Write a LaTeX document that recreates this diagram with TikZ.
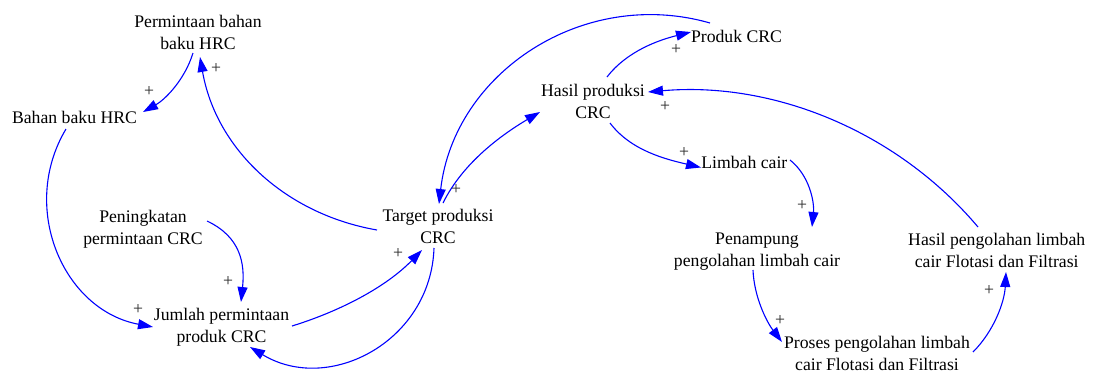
\documentclass[tikz,border=0pt]{standalone}
\usepackage{fontspec}
\setmainfont{Liberation Serif}
\usetikzlibrary{arrows.meta}
\begin{document}
\begin{tikzpicture}[x=1pt,y=-1pt,
  var/.style={font=\fontsize{17.7}{22}\selectfont, align=center, inner sep=0pt, text=black},
  pol/.style={font=\fontsize{17.7}{22}\selectfont, inner sep=0pt, text=black!85},
  link/.style={draw=blue, line width=1.1pt, -{Triangle[length=15pt,width=10pt]}}]
\useasboundingbox (0,0) rectangle (1093,376);
% variables
\node[var] (perm)   at (198,33.6)   {\strut Permintaan bahan\\\strut baku HRC};
\node[var] (bahan)  at (74.5,119)   {\strut Bahan baku HRC};
\node[var] (pen)    at (143,228.6)  {\strut Peningkatan\\\strut permintaan CRC};
\node[var] (jum)    at (221.5,326.6){\strut Jumlah permintaan\\\strut produk CRC};
\node[var] (target) at (438,228.3)  {\strut Target produksi\\\strut CRC};
\node[var] (hasil)  at (593,103.3)  {\strut Hasil produksi\\\strut CRC};
\node[var] (produk) at (736.5,38.3) {\strut Produk CRC};
\node[var] (limbah) at (744.3,164)  {\strut Limbah cair};
\node[var] (tamp)   at (757,250.6)  {\strut Penampung\\\strut pengolahan limbah cair};
\node[var] (hpeng)  at (996.7,251.6){\strut Hasil pengolahan limbah\\\strut cair Flotasi dan Filtrasi};
\node[var] (proses) at (877,355)    {\strut Proses pengolahan limbah\\\strut cair Flotasi dan Filtrasi};
% links
\draw[link] ([shift={(-5,19.4)}]perm.center) .. controls +(-8,26) and +(23,-13) .. ([shift={(68.5,-7)}]bahan.center);
\draw[link] ([shift={(-61,1.7)}]target.center) .. controls +(-92,-16) and +(16,92) .. ([shift={(2,23.4)}]perm.center);
\draw[link] ([shift={(-8.5,10)}]bahan.center) .. controls +(-47,78.5) and +(-90,-17) .. ([shift={(-68.5,0.4)}]jum.center);
\draw[link] ([shift={(64,-7.6)}]pen.center) .. controls +(34,16) and +(4,-38) .. ([shift={(19.5,-24.6)}]jum.center);
\draw[link] ([shift={(70.5,-0.6)}]jum.center) .. controls +(48.5,-15) and +(-36,37) .. ([shift={(-16,21.7)}]target.center);
\draw[link] ([shift={(-4,19.7)}]target.center) .. controls +(-3,93) and +(79,48) .. ([shift={(28.5,20.4)}]jum.center);
\draw[link] ([shift={(5,-25.3)}]target.center) .. controls +(20,-40.5) and +(-38,22.5) .. ([shift={(-53,8.7)}]hasil.center);
\draw[link] ([shift={(-26.5,-15.3)}]produk.center) .. controls +(-127,-36.4) and +(15,-131) .. ([shift={(1,-24.3)}]target.center);
\draw[link] ([shift={(14,-26.3)}]hasil.center) .. controls +(20,-26) and +(-32,8) .. ([shift={(-45.5,-6.3)}]produk.center);
\draw[link] ([shift={(17,19.7)}]hasil.center) .. controls +(21,28) and +(-34,-8) .. ([shift={(-43.3,3.5)}]limbah.center);
\draw[link] ([shift={(-18.7,-24.6)}]hpeng.center) .. controls +(-81,-96) and +(125,-11) .. ([shift={(55,-11.3)}]hasil.center);
\draw[link] ([shift={(45.7,-4)}]limbah.center) .. controls +(19.5,15.5) and +(2.5,-25) .. ([shift={(55,-23.6)}]tamp.center);
\draw[link] ([shift={(-4,19.4)}]tamp.center) .. controls +(1,26) and +(-16,-21) .. ([shift={(-95,-13)}]proses.center);
\draw[link] ([shift={(96,-3)}]proses.center) .. controls +(21,-21) and +(-1.5,30) .. ([shift={(9.3,20.4)}]hpeng.center);
% polarities
\node[pol] (p1)  at (149,91)  {+};
\node[pol] (p2)  at (216,68)  {+};
\node[pol] (p3)  at (138,309) {+};
\node[pol] (p4)  at (228,281) {+};
\node[pol] (p5)  at (398,253) {+};
\node[pol] (p6)  at (456,189) {+};
\node[pol] (p7)  at (676,49)  {+};
\node[pol] (p8)  at (684,152) {+};
\node[pol] (p9)  at (665,106) {+};
\node[pol] (p10) at (802,205) {+};
\node[pol] (p11) at (780,320) {+};
\node[pol] (p12) at (989,290) {+};
\end{tikzpicture}
\end{document}
